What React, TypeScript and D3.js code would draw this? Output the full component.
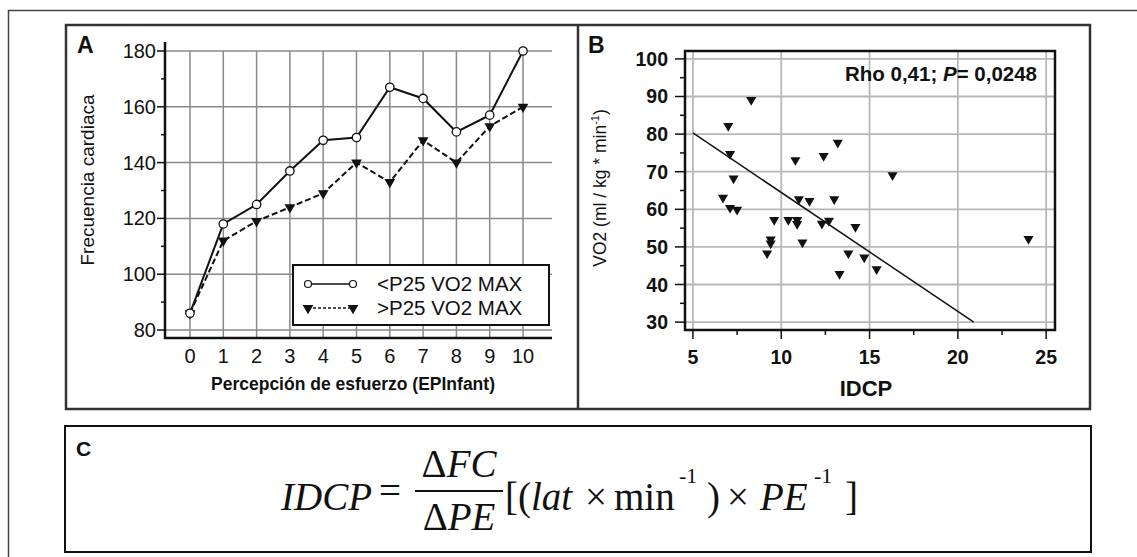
import React, {useEffect, useRef} from 'react'
import * as d3 from 'd3'

const W = 1137
const H = 557
const sans = 'Liberation Sans, Arial, sans-serif'
const serif = 'Liberation Serif, Times New Roman, serif'

// Panel A: heart rate by perceived effort
const effort = [0, 1, 2, 3, 4, 5, 6, 7, 8, 9, 10]
const hrLow = [86, 118, 125, 137, 148, 149, 167, 163, 151, 157, 180]
const hrHigh = [86, 112, 119, 124, 129, 140, 133, 148, 140, 153, 160]
const aTicksY = [80, 100, 120, 140, 160, 180]
const aMinorY = [90, 110, 130, 150, 170]
const legendLabels = ['<P25 VO2 MAX', '>P25 VO2 MAX']

// Panel B: VO2 vs IDCP
const idcp = [6.7, 7.0, 7.1, 7.3, 7.1, 7.5, 8.3, 9.2, 9.4, 9.4, 9.6, 10.4, 10.9, 10.9, 10.8, 11.0, 11.2, 11.6, 12.3, 12.4, 12.7, 13.0, 13.2, 13.3, 13.8, 14.2, 14.7, 15.4, 16.3, 24.0]
const vo2 = [63.1, 82.2, 74.7, 68.2, 60.4, 59.9, 89.1, 48.3, 52.0, 50.9, 57.2, 57.2, 57.2, 56.1, 73.1, 62.7, 51.2, 62.2, 56.2, 74.2, 57.0, 62.7, 77.7, 42.8, 48.3, 55.3, 47.2, 44.1, 69.1, 52.1]
const fitX = [5, 20.9]
const fitY = [80.3, 30]
const bTicksX = [5, 10, 15, 20, 25]
const bMinorX = [7.5, 12.5, 17.5, 22.5]
const bTicksY = [30, 40, 50, 60, 70, 80, 90, 100]
const bMinorY = [35, 45, 55, 65, 75, 85, 95]

const App = () => {
  const ref = useRef(null)

  useEffect(() => {
    const svg = d3.select(ref.current)
    svg.selectAll('*').remove()

    // frames
    svg.append('path').attr('d', `M8.5,${H} V10.5 H${W}`).attr('fill', 'none').attr('stroke', '#444').attr('stroke-width', 1.5)
    svg.append('rect').attr('x', 66).attr('y', 25).attr('width', 1024).attr('height', 384)
      .attr('fill', 'none').attr('stroke', '#333').attr('stroke-width', 2.5)
    svg.append('line').attr('x1', 578).attr('x2', 578).attr('y1', 25).attr('y2', 409).attr('stroke', '#333').attr('stroke-width', 2.5)
    svg.append('rect').attr('x', 65).attr('y', 426).attr('width', 1026).attr('height', 126)
      .attr('fill', 'none').attr('stroke', '#111').attr('stroke-width', 2)

    const label = (t, x, y, size) =>
      svg.append('text').attr('x', x).attr('y', y).attr('font-family', sans).attr('font-weight', 'bold')
        .attr('font-size', size).attr('fill', '#111').text(t)
    label('A', 77, 53, 23)
    label('B', 588, 53, 23)
    label('C', 76, 456, 21)

    // ---------- Panel A ----------
    const xA = d3.scaleLinear().domain([-0.75, 10.87]).range([165, 552])
    const yA = d3.scaleLinear().domain([80, 180]).range([330, 51])
    const a = svg.append('g')

    a.selectAll('.gx').data(effort).enter().append('line')
      .attr('x1', d => xA(d)).attr('x2', d => xA(d)).attr('y1', 338).attr('y2', yA(180))
      .attr('stroke', '#8a8a8a').attr('stroke-width', 1.5)
    a.selectAll('.gy').data(aTicksY).enter().append('line')
      .attr('x1', 165).attr('x2', 552).attr('y1', d => yA(d)).attr('y2', d => yA(d))
      .attr('stroke', '#8a8a8a').attr('stroke-width', 1.5)

    // axes
    a.append('line').attr('x1', 165).attr('x2', 165).attr('y1', 42).attr('y2', 339).attr('stroke', '#111').attr('stroke-width', 2.5)
    a.append('line').attr('x1', 164).attr('x2', 552).attr('y1', 338).attr('y2', 338).attr('stroke', '#111').attr('stroke-width', 2.5)
    a.selectAll('.ty').data(aTicksY).enter().append('line')
      .attr('x1', 157).attr('x2', 165).attr('y1', d => yA(d)).attr('y2', d => yA(d)).attr('stroke', '#111').attr('stroke-width', 1.5)
    a.selectAll('.tym').data(aMinorY).enter().append('line')
      .attr('x1', 161).attr('x2', 165).attr('y1', d => yA(d)).attr('y2', d => yA(d)).attr('stroke', '#111').attr('stroke-width', 1.5)
    a.selectAll('.ly').data(aTicksY).enter().append('text')
      .attr('x', 156).attr('y', d => yA(d) + 7).attr('text-anchor', 'end')
      .attr('font-family', sans).attr('font-size', 20).attr('fill', '#111').text(d => d)
    a.selectAll('.lx').data(effort).enter().append('text')
      .attr('x', d => xA(d)).attr('y', 363).attr('text-anchor', 'middle')
      .attr('font-family', sans).attr('font-size', 20).attr('fill', '#111').text(d => d)
    a.append('text').attr('x', 353).attr('y', 390).attr('text-anchor', 'middle')
      .attr('font-family', sans).attr('font-weight', 'bold').attr('font-size', 17.5).attr('fill', '#111')
      .text('Percepción de esfuerzo (EPInfant)')
    a.append('text').attr('transform', 'translate(94,180) rotate(-90)').attr('text-anchor', 'middle')
      .attr('font-family', sans).attr('font-size', 19).attr('fill', '#111').text('Frecuencia cardiaca')

    const lineA = d3.line().x(d => xA(d[0])).y(d => yA(d[1]))
    const lowPts = effort.map((e, i) => [e, hrLow[i]])
    const highPts = effort.map((e, i) => [e, hrHigh[i]])
    a.append('path').attr('d', lineA(highPts)).attr('fill', 'none').attr('stroke', '#111')
      .attr('stroke-width', 2).attr('stroke-dasharray', '6,3')
    a.append('path').attr('d', lineA(lowPts)).attr('fill', 'none').attr('stroke', '#111').attr('stroke-width', 2)
    const triA = d3.symbol().type(d3.symbolTriangle).size(50)
    a.selectAll('.mh').data(highPts).enter().append('path').attr('d', triA())
      .attr('transform', d => `translate(${xA(d[0])},${yA(d[1])}) rotate(180)`).attr('fill', '#111')
    a.selectAll('.ml').data(lowPts).enter().append('circle')
      .attr('cx', d => xA(d[0])).attr('cy', d => yA(d[1])).attr('r', 4.2)
      .attr('fill', '#fff').attr('stroke', '#111').attr('stroke-width', 1.3)

    // legend
    const lg = a.append('g')
    lg.append('rect').attr('x', 293).attr('y', 265).attr('width', 256).attr('height', 60)
      .attr('fill', '#fff').attr('stroke', '#111').attr('stroke-width', 2)
    legendLabels.forEach((t, i) => {
      const y = 284 + i * 24
      lg.append('line').attr('x1', 308).attr('x2', 353).attr('y1', y).attr('y2', y).attr('stroke', '#111')
        .attr('stroke-width', 1.5).attr('stroke-dasharray', i === 1 ? '3,2' : null)
      ;[308, 353].forEach(x => {
        if (i === 0) {
          lg.append('circle').attr('cx', x).attr('cy', y).attr('r', 3.5).attr('fill', '#fff').attr('stroke', '#111').attr('stroke-width', 1.2)
        } else {
          lg.append('path').attr('d', triA()).attr('transform', `translate(${x},${y}) rotate(180)`).attr('fill', '#111')
        }
      })
      lg.append('text').attr('x', 377).attr('y', y + 7).attr('font-family', sans).attr('font-size', 20.5)
        .attr('fill', '#111').text(t)
    })

    // ---------- Panel B ----------
    const xB = d3.scaleLinear().domain([4.55, 25.5]).range([685, 1055])
    const yB = d3.scaleLinear().domain([27.9, 102.1]).range([330, 51])
    const b = svg.append('g')

    b.selectAll('.gx').data(bTicksX).enter().append('line')
      .attr('x1', d => xB(d)).attr('x2', d => xB(d)).attr('y1', 51).attr('y2', 330)
      .attr('stroke', '#b8b8b8').attr('stroke-width', 1.8)
    b.selectAll('.gy').data(bTicksY).enter().append('line')
      .attr('x1', 685).attr('x2', 1055).attr('y1', d => yB(d)).attr('y2', d => yB(d))
      .attr('stroke', '#b8b8b8').attr('stroke-width', 1.8)
    b.append('rect').attr('x', 685).attr('y', 51).attr('width', 370).attr('height', 279)
      .attr('fill', 'none').attr('stroke', '#111').attr('stroke-width', 2.5)

    b.selectAll('.ty').data(bTicksY).enter().append('line')
      .attr('x1', 675).attr('x2', 685).attr('y1', d => yB(d)).attr('y2', d => yB(d)).attr('stroke', '#111').attr('stroke-width', 1.5)
    b.selectAll('.tym').data(bMinorY).enter().append('line')
      .attr('x1', 680).attr('x2', 685).attr('y1', d => yB(d)).attr('y2', d => yB(d)).attr('stroke', '#111').attr('stroke-width', 1.5)
    b.selectAll('.tx').data(bTicksX).enter().append('line')
      .attr('x1', d => xB(d)).attr('x2', d => xB(d)).attr('y1', 330).attr('y2', 339).attr('stroke', '#111').attr('stroke-width', 1.5)
    b.selectAll('.txm').data(bMinorX).enter().append('line')
      .attr('x1', d => xB(d)).attr('x2', d => xB(d)).attr('y1', 330).attr('y2', 335).attr('stroke', '#111').attr('stroke-width', 1.5)

    b.selectAll('.ly').data(bTicksY).enter().append('text')
      .attr('x', 668).attr('y', d => yB(d) + 7).attr('text-anchor', 'end')
      .attr('font-family', sans).attr('font-weight', 'bold').attr('font-size', 19.5).attr('fill', '#111').text(d => d)
    b.selectAll('.lx').data(bTicksX).enter().append('text')
      .attr('x', d => xB(d)).attr('y', 364).attr('text-anchor', 'middle')
      .attr('font-family', sans).attr('font-weight', 'bold').attr('font-size', 19.5).attr('fill', '#111').text(d => d)
    b.append('text').attr('x', 866).attr('y', 396).attr('text-anchor', 'middle')
      .attr('font-family', sans).attr('font-weight', 'bold').attr('font-size', 22).attr('fill', '#111').text('IDCP')

    const yt = b.append('text').attr('transform', 'translate(606,188) rotate(-90)').attr('text-anchor', 'middle')
      .attr('font-family', sans).attr('font-size', 17.5).attr('fill', '#111')
    yt.append('tspan').text('VO2 (ml / kg * min')
    yt.append('tspan').attr('font-size', 11).attr('dy', -7).text('-1')
    yt.append('tspan').attr('dy', 7).text(')')

    const rho = b.append('text').attr('x', 1037).attr('y', 81).attr('text-anchor', 'end')
      .attr('font-family', sans).attr('font-weight', 'bold').attr('font-size', 20.5).attr('fill', '#111')
    rho.append('tspan').text('Rho 0,41; ')
    rho.append('tspan').attr('font-style', 'italic').text('P')
    rho.append('tspan').text('= 0,0248')

    b.append('line').attr('x1', xB(fitX[0])).attr('y1', yB(fitY[0])).attr('x2', xB(fitX[1])).attr('y2', yB(fitY[1]))
      .attr('stroke', '#111').attr('stroke-width', 1.5)

    const triB = d3.symbol().type(d3.symbolTriangle).size(44)
    b.selectAll('.pt').data(idcp).enter().append('path').attr('d', triB())
      .attr('transform', (d, i) => `translate(${xB(d)},${yB(vo2[i])}) rotate(180)`).attr('fill', '#111')

    // ---------- Panel C: formula ----------
    const c = svg.append('g').attr('font-family', serif).attr('fill', '#111')
    const fs = 39
    const base = 510
    c.append('text').attr('x', 372).attr('y', base).attr('font-size', fs).attr('font-style', 'italic')
      .attr('text-anchor', 'end').text('IDCP')
    c.append('text').attr('x', 379).attr('y', base - 6).attr('font-size', fs).text('=')
    c.append('line').attr('x1', 415).attr('x2', 503).attr('y1', 491).attr('y2', 491).attr('stroke', '#111').attr('stroke-width', 1.8)
    const num = c.append('text').attr('x', 459).attr('y', 477).attr('font-size', fs).attr('text-anchor', 'middle')
    num.append('tspan').text('Δ')
    num.append('tspan').attr('font-style', 'italic').text('FC')
    const den = c.append('text').attr('x', 459).attr('y', 530).attr('font-size', fs).attr('text-anchor', 'middle')
    den.append('tspan').text('Δ')
    den.append('tspan').attr('font-style', 'italic').text('PE')
    const piece = (t, x, opts = {}) => {
      const el = c.append('text').attr('x', x).attr('y', opts.sup ? base - 27 : base)
        .attr('font-size', opts.sup ? 22 : fs).text(t)
      if (opts.italic) el.attr('font-style', 'italic')
    }
    piece('[(', 505)
    piece('lat', 531, {italic: true})
    piece('×', 585)
    piece('min', 614)
    piece('-1', 679, {sup: true})
    piece(')', 707)
    piece('×', 727)
    piece('PE', 760, {italic: true})
    piece('-1', 814, {sup: true})
    piece(']', 845)
  }, [])

  return (
    <svg ref={ref} width={W} height={H} style={{position: 'absolute', left: 0, top: 0, background: '#fff'}}></svg>
  )
}

export default App
